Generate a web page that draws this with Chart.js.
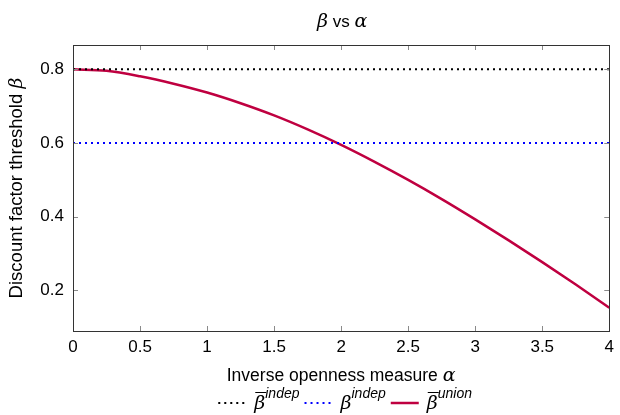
<!DOCTYPE html>
<html>
<head>
<meta charset="utf-8">
<script src="https://cdn.jsdelivr.net/npm/chart.js@4.4.0/dist/chart.umd.min.js"></script>
<style>
  html, body { margin: 0; padding: 0; background: #fff; }
  #wrap { width: 620px; height: 415px; }
</style>
</head>
<body>
<div id="wrap"><canvas id="chart" width="620" height="415"></canvas></div>
<script>
// alpha grid and beta values
const alphaValues = [0, 0.25, 0.5, 0.75, 1, 1.25, 1.5, 1.75, 2, 2.25, 2.5, 2.75, 3, 3.25, 3.5, 3.75, 4];
const betaUnion   = [0.800, 0.796, 0.781, 0.761, 0.737, 0.708, 0.675, 0.637, 0.595, 0.549, 0.500, 0.448, 0.393, 0.336, 0.277, 0.216, 0.153];
const lineEnds = [0, 4];
const betaIndepBar = [0.8, 0.8];
const betaIndep = [0.6, 0.6];
const xTicks = [0, 0.5, 1, 1.5, 2, 2.5, 3, 3.5, 4];
const yTicks = [0.2, 0.4, 0.6, 0.8];

const SANS = '"Liberation Sans", sans-serif';
const SERIF_IT = 'italic 19px "DejaVu Serif", serif';

const toPoints = (xs, ys) => xs.map((x, i) => ({ x: x, y: ys[i] }));

// draws a row of text runs centred on cx, baseline at y
function drawRuns(ctx, runs, cx, y) {
    let total = 0;
    runs.forEach(r => { ctx.font = r.font; r.w = ctx.measureText(r.text).width; total += r.w; });
    let x = cx - total / 2;
    runs.forEach(r => {
        ctx.font = r.font;
        ctx.fillText(r.text, x, y + (r.dy || 0));
        x += r.w;
    });
}

const framePlugin = {
    id: 'frame',
    afterDraw(chart) {
        const ctx = chart.ctx;
        const a = chart.chartArea;
        const xs = chart.scales.x, ys = chart.scales.y;
        ctx.save();
        // inward ticks on all four sides
        ctx.strokeStyle = '#8a8a8a';
        ctx.lineWidth = 1;
        ctx.beginPath();
        xTicks.forEach(v => {
            const px = Math.round(xs.getPixelForValue(v)) + 0.5;
            ctx.moveTo(px, a.bottom); ctx.lineTo(px, a.bottom - 5);
            ctx.moveTo(px, a.top); ctx.lineTo(px, a.top + 5);
        });
        yTicks.forEach(v => {
            const py = Math.round(ys.getPixelForValue(v)) + 0.5;
            ctx.moveTo(a.left, py); ctx.lineTo(a.left + 5, py);
            ctx.moveTo(a.right, py); ctx.lineTo(a.right - 5, py);
        });
        ctx.stroke();
        // box
        ctx.strokeStyle = '#333';
        ctx.strokeRect(Math.round(a.left) + 0.5, Math.round(a.top) + 0.5,
                       Math.round(a.right - a.left), Math.round(a.bottom - a.top));

        ctx.fillStyle = '#000';
        ctx.textBaseline = 'alphabetic';
        const cx = (a.left + a.right) / 2;

        // title
        drawRuns(ctx, [
            { text: 'β', font: SERIF_IT },
            { text: ' vs ', font: '17px ' + SANS },
            { text: 'α', font: SERIF_IT }
        ], cx + 1, 27);

        // x axis title
        drawRuns(ctx, [
            { text: 'Inverse openness measure ', font: '17.5px ' + SANS },
            { text: 'α', font: SERIF_IT }
        ], cx, 381);

        // y axis title
        ctx.save();
        ctx.translate(22, (a.top + a.bottom) / 2);
        ctx.rotate(-Math.PI / 2);
        drawRuns(ctx, [
            { text: 'Discount factor threshold ', font: '18.5px ' + SANS },
            { text: 'β', font: SERIF_IT }
        ], 0, 0);
        ctx.restore();

        // legend
        const sup = 'italic 14px ' + SANS;
        const labels = [
            { bar: true, sup: 'indep' },
            { bar: false, sup: 'indep' },
            { bar: true, sup: 'union' }
        ];
        const sampleW = 28, gap = 8, sep = 5;
        const legendBase = 409, lineY = 403;
        let total = 0;
        labels.forEach(l => {
            ctx.font = SERIF_IT; l.bw = ctx.measureText('β').width;
            ctx.font = sup; l.sw = ctx.measureText(l.sup).width;
            l.w = sampleW + gap + l.bw + l.sw;
            total += l.w;
        });
        total += sep * (labels.length - 1);
        let x = cx - total / 2 + 4;
        labels.forEach((l, i) => {
            const ds = chart.data.datasets[i];
            ctx.save();
            ctx.strokeStyle = ds.borderColor;
            ctx.lineWidth = ds.borderWidth;
            ctx.setLineDash(ds.borderDash || []);
            ctx.beginPath();
            ctx.moveTo(x, lineY); ctx.lineTo(x + sampleW, lineY);
            ctx.stroke();
            ctx.restore();
            x += sampleW + gap;
            ctx.font = SERIF_IT;
            ctx.fillText('β', x, legendBase);
            if (l.bar) {
                ctx.strokeStyle = '#000';
                ctx.lineWidth = 1;
                ctx.beginPath();
                ctx.moveTo(x + 1, legendBase - 16.5); ctx.lineTo(x + l.bw + 1, legendBase - 16.5);
                ctx.stroke();
            }
            x += l.bw;
            ctx.font = sup;
            ctx.fillText(l.sup, x, legendBase - 11);
            x += l.sw + sep;
        });
        ctx.restore();
    }
};

const ctx = document.getElementById('chart').getContext('2d');
new Chart(ctx, {
    type: 'line',
    data: {
        datasets: [
            {
                label: 'beta bar indep',
                data: toPoints(lineEnds, betaIndepBar),
                borderColor: '#000',
                borderWidth: 2,
                borderDash: [2, 4],
                pointRadius: 0,
                fill: false
            },
            {
                label: 'beta indep',
                data: toPoints(lineEnds, betaIndep),
                borderColor: '#0000ff',
                borderWidth: 2,
                borderDash: [2, 4],
                pointRadius: 0,
                fill: false
            },
            {
                label: 'beta bar union',
                data: toPoints(alphaValues, betaUnion),
                borderColor: '#bf0040',
                borderWidth: 2.5,
                pointRadius: 0,
                cubicInterpolationMode: 'monotone',
                fill: false
            }
        ]
    },
    options: {
        responsive: false,
        animation: false,
        devicePixelRatio: 1,
        layout: { padding: { top: 45, right: 6, left: 0, bottom: 0 } },
        plugins: {
            legend: { display: false },
            title: { display: false },
            tooltip: { enabled: false }
        },
        scales: {
            x: {
                type: 'linear',
                min: 0,
                max: 4,
                grid: { display: false, drawTicks: false },
                border: { display: false },
                afterBuildTicks: s => { s.ticks = xTicks.map(v => ({ value: v })); },
                afterFit: s => { s.height = 84; },
                ticks: {
                    padding: 6,
                    maxRotation: 0,
                    color: '#000',
                    font: { family: SANS, size: 17 },
                    callback: v => String(v)
                }
            },
            y: {
                type: 'linear',
                min: 0.09,
                max: 0.866,
                grid: { display: false, drawTicks: false },
                border: { display: false },
                afterBuildTicks: s => { s.ticks = yTicks.map(v => ({ value: v })); },
                afterFit: s => { s.width = 73; },
                ticks: {
                    padding: 9,
                    color: '#000',
                    font: { family: SANS, size: 17 },
                    callback: v => v.toFixed(1)
                }
            }
        }
    },
    plugins: [framePlugin]
});
</script>
</body>
</html>
